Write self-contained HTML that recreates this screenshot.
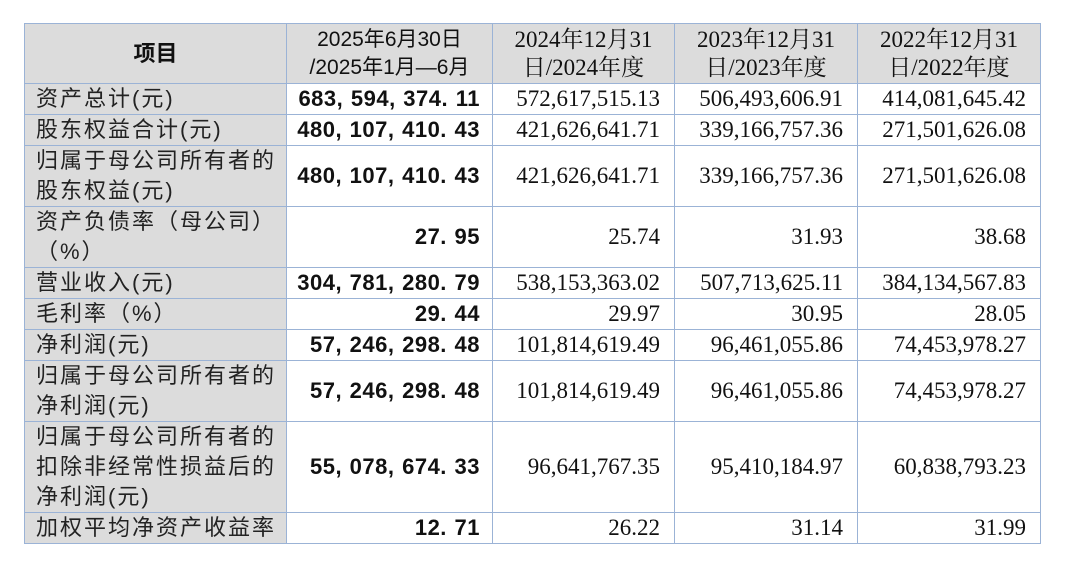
<!DOCTYPE html>
<html><head><meta charset="utf-8"><style>
body{margin:0;background:#fff;width:1080px;height:576px;overflow:hidden}
table{position:absolute;left:24px;top:23px;border-collapse:collapse;table-layout:fixed;width:1016px}
td{border:1.5px solid #9bb3d6;padding:0;overflow:hidden;white-space:nowrap}
.h td{background:#dcdcdc;text-align:center;font-family:"Liberation Serif","Noto Serif CJK SC",serif;font-size:23px;line-height:28px;color:#111}
td.l{background:#dcdcdc;font-family:"Liberation Sans","Noto Sans CJK SC",sans-serif;font-size:22px;line-height:30px;padding-left:11px;letter-spacing:2px;color:#222}
td.b{text-align:right;padding-right:12px;font-family:"Liberation Sans","Noto Sans CJK SC",sans-serif;font-weight:bold;font-size:22px;letter-spacing:0.5px;word-spacing:1px;color:#111}
td.s{text-align:right;padding-right:14px;font-family:"Liberation Serif","Noto Serif CJK SC",serif;font-size:23px;color:#111}
.h td.hb{font-family:"Liberation Sans","Noto Sans CJK SC",sans-serif;font-size:21px}
</style></head><body>
<table>
<colgroup><col style="width:262px"><col style="width:206px"><col style="width:182px"><col style="width:183px"><col style="width:183px"></colgroup>
<tr class="h" style="height:60px"><td style="font-family:'Liberation Sans','Noto Sans CJK SC',sans-serif;font-weight:bold;font-size:22px">项目</td><td class="hb">2025年6月30日<br>/2025年1月—6月</td><td>2024年12月31<br>日/2024年度</td><td>2023年12月31<br>日/2023年度</td><td>2022年12月31<br>日/2022年度</td></tr>
<tr style="height:31px"><td class="l">资产总计(元)</td><td class="b">683, 594, 374. 11</td><td class="s">572,617,515.13</td><td class="s">506,493,606.91</td><td class="s">414,081,645.42</td></tr>
<tr style="height:31px"><td class="l">股东权益合计(元)</td><td class="b">480, 107, 410. 43</td><td class="s">421,626,641.71</td><td class="s">339,166,757.36</td><td class="s">271,501,626.08</td></tr>
<tr style="height:61px"><td class="l">归属于母公司所有者的<br>股东权益(元)</td><td class="b">480, 107, 410. 43</td><td class="s">421,626,641.71</td><td class="s">339,166,757.36</td><td class="s">271,501,626.08</td></tr>
<tr style="height:61px"><td class="l">资产负债率（母公司）<br>（%）</td><td class="b">27. 95</td><td class="s">25.74</td><td class="s">31.93</td><td class="s">38.68</td></tr>
<tr style="height:31px"><td class="l">营业收入(元)</td><td class="b">304, 781, 280. 79</td><td class="s">538,153,363.02</td><td class="s">507,713,625.11</td><td class="s">384,134,567.83</td></tr>
<tr style="height:31px"><td class="l">毛利率（%）</td><td class="b">29. 44</td><td class="s">29.97</td><td class="s">30.95</td><td class="s">28.05</td></tr>
<tr style="height:31px"><td class="l">净利润(元)</td><td class="b">57, 246, 298. 48</td><td class="s">101,814,619.49</td><td class="s">96,461,055.86</td><td class="s">74,453,978.27</td></tr>
<tr style="height:61px"><td class="l">归属于母公司所有者的<br>净利润(元)</td><td class="b">57, 246, 298. 48</td><td class="s">101,814,619.49</td><td class="s">96,461,055.86</td><td class="s">74,453,978.27</td></tr>
<tr style="height:91px"><td class="l">归属于母公司所有者的<br>扣除非经常性损益后的<br>净利润(元)</td><td class="b">55, 078, 674. 33</td><td class="s">96,641,767.35</td><td class="s">95,410,184.97</td><td class="s">60,838,793.23</td></tr>
<tr style="height:31px"><td class="l">加权平均净资产收益率</td><td class="b">12. 71</td><td class="s">26.22</td><td class="s">31.14</td><td class="s">31.99</td></tr>
</table>
</body></html>
